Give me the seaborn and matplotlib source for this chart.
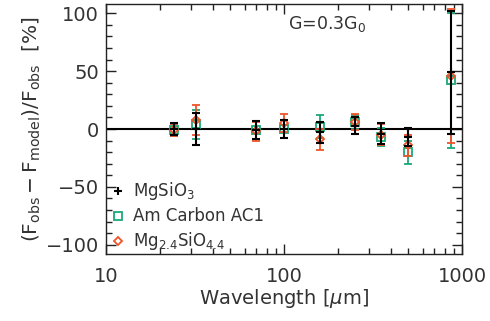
import numpy as np
import matplotlib
matplotlib.use("Agg")
import matplotlib.pyplot as plt
import seaborn as sns
from matplotlib.lines import Line2D
from matplotlib.ticker import MultipleLocator, FixedLocator, NullFormatter

# wavelengths (micron)
wave = [24, 32, 70, 100, 160, 250, 350, 500, 870]

# residuals (%) and errors for each dust model
mgsio3 = [0, 0, -1, 0, -3, 3, -4, -7, 49]
mgsio3_err = [5, 13.5, 8, 8, 9, 7, 9, 8, 53]

carbon = [-1, 4, -1, 0, 2, 6, -7, -20, 42]
carbon_err = [5, 12.5, 8, 8, 10, 6, 8, 10, 58]

mg24 = [-1, 8, -2, 5, -9, 6, -5, -14, 46]
mg24_err = [5, 13, 8, 8, 9, 7, 9, 9, 58]

labels = [r"MgSiO$_3$", "Am Carbon AC1", r"Mg$_{2.4}$SiO$_{4.4}$"]

sns.set_style("ticks")
plt.rcParams['font.family'] = ['DejaVu Sans']
plt.rcParams['mathtext.fontset'] = 'dejavusans'

fig = plt.figure(figsize=(4.9, 3.21), dpi=100)
ax = fig.add_axes([0.2163, 0.2087, 0.7266, 0.7788])

green = "#1aa876"
red = "#f0542a"

ax.axhline(0, color="black", lw=1.5, zorder=1)

ax.errorbar(wave, carbon, yerr=carbon_err, fmt="s", ms=6, mfc="none", mec=green,
            mew=1.3, ecolor=green, elinewidth=1.3, capsize=3, capthick=1.3, zorder=2)
ax.errorbar(wave, mg24, yerr=mg24_err, fmt="D", ms=4.5, mfc="none", mec=red,
            mew=1.3, ecolor=red, elinewidth=1.3, capsize=3, capthick=1.3, zorder=3)
ax.errorbar(wave, mgsio3, yerr=mgsio3_err, fmt="+", ms=6, color="black",
            mew=1.5, elinewidth=1.5, capsize=3, capthick=1.5, zorder=4)

ax.set_xscale("log")
ax.set_xlim(10, 1000)
ax.set_ylim(-108, 108)
ax.yaxis.set_major_locator(FixedLocator([-100, -50, 0, 50, 100]))
ax.yaxis.set_minor_locator(MultipleLocator(10))
ax.set_xticks([10, 100, 1000])
ax.set_xticklabels(["10", "100", "1000"])
ax.xaxis.set_minor_formatter(NullFormatter())
ax.set_yticklabels(["\u2212100", "\u221250", "0", "50", "100"])

ax.tick_params(which="both", direction="in", top=True, right=True, width=1, color="#222222")
ax.tick_params(which="major", length=7, labelsize=14, colors="#222222", labelcolor="#333333")
ax.tick_params(axis="x", which="major", pad=9)
ax.tick_params(axis="y", which="major", pad=5)
ax.tick_params(which="minor", length=4)
for sp in ax.spines.values():
    sp.set_linewidth(1)
    sp.set_color("#222222")

ax.set_xlabel(r"Wavelength $[\mu\mathrm{m}]$", fontsize=14, color="#333333", labelpad=1)
ax.set_ylabel(r"$\left(\mathrm{F_{obs}} - \mathrm{F_{model}}\right)/\mathrm{F_{obs}}\ \ [\%]$",
              fontsize=14.5, color="#333333", labelpad=2)

ax.text(0.62, 0.96, r"G=0.3G$_0$", transform=ax.transAxes, fontsize=12.5,
        ha="center", va="top", color="#333333")

handles = [
    Line2D([], [], ls="none", marker="+", ms=6, mew=1.5, color="black"),
    Line2D([], [], ls="none", marker="s", ms=6, mfc="none", mec=green, mew=1.3),
    Line2D([], [], ls="none", marker="D", ms=4.5, mfc="none", mec=red, mew=1.3),
]
leg = ax.legend(handles, labels, loc="lower left", frameon=False, fontsize=12,
                handlelength=0.8, handletextpad=0.5, labelspacing=0.3,
                borderaxespad=0.0, bbox_to_anchor=(-0.005, -0.02))
for t in leg.get_texts():
    t.set_color("#333333")

fig.savefig("out.png", dpi=100)
